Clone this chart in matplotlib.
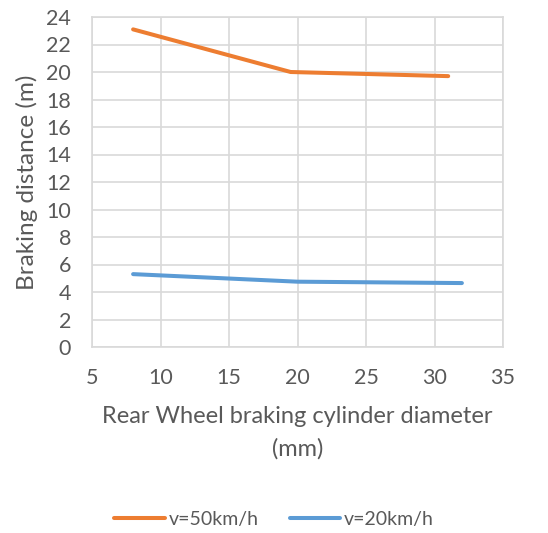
import matplotlib.pyplot as plt

# data
dia_50 = [8, 19.5, 31]
dist_50 = [23.1, 20.0, 19.7]
dia_20 = [8, 20, 32]
dist_20 = [5.3, 4.75, 4.65]

x_ticks = [5, 10, 15, 20, 25, 30, 35]
y_ticks = list(range(0, 25, 2))

plt.rcParams['font.family'] = ['Lato', 'DejaVu Sans']
text_color = '#595959'
grid_color = '#d9d9d9'

fig = plt.figure(figsize=(5.48, 5.33), dpi=100)
ax = fig.add_axes([92 / 548, 1 - 347 / 533, (503 - 92) / 548, (347 - 17) / 533])

ax.plot(dia_50, dist_50, color='#ED7D31', lw=2.9, solid_capstyle='round', label='v=50km/h')
ax.plot(dia_20, dist_20, color='#5B9BD5', lw=2.9, solid_capstyle='round', label='v=20km/h')

ax.set_xlim(5, 35)
ax.set_ylim(0, 24)
ax.set_xticks(x_ticks)
ax.set_yticks(y_ticks)
ax.grid(True, color=grid_color, lw=1.2)
ax.set_axisbelow(True)
for s in ax.spines.values():
    s.set_color(grid_color)
    s.set_linewidth(1.2)
ax.tick_params(length=0, labelsize=15.5, colors=text_color)
ax.tick_params(axis='y', pad=15)
ax.tick_params(axis='x', pad=15)

ax.set_xlabel('Rear Wheel braking cylinder diameter\n(mm)', fontsize=17,
              color=text_color, labelpad=13, linespacing=1.62)
ax.set_ylabel('Braking distance (m)', fontsize=17.5, color=text_color, labelpad=6)

fig.legend(loc='center', bbox_to_anchor=(0.5, 1 - 519 / 533), ncol=2, frameon=False,
           fontsize=14, handlelength=2.6, columnspacing=1.6, handletextpad=0.2,
           labelcolor=text_color)

fig.savefig('out.png', dpi=100)
